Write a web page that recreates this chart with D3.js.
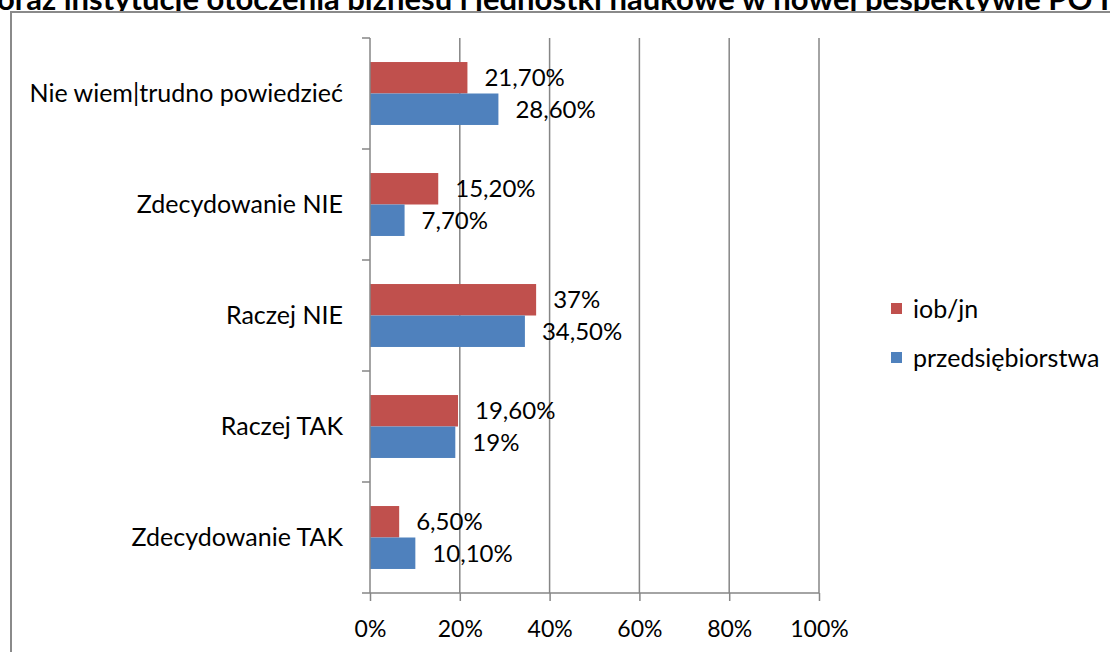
<!DOCTYPE html>
<html>
<head>
<meta charset="utf-8">
<script src="https://cdn.jsdelivr.net/npm/d3@7"></script>
<style>
  html, body { margin: 0; padding: 0; background: #fff; overflow: hidden; }
  svg { display: block; font-family: Lato, "Open Sans", sans-serif; }
</style>
</head>
<body>
<div id="chart"></div>
<script>
var title = "oraz instytucje otoczenia biznesu i jednostki naukowe w nowej pespektywie PO IR";
var categories = ["Nie wiem|trudno powiedzieć", "Zdecydowanie NIE", "Raczej NIE", "Raczej TAK", "Zdecydowanie TAK"];
var series = ["iob/jn", "przedsiębiorstwa"];
var iob_values = [21.7, 15.2, 37, 19.6, 6.5];
var firm_values = [28.6, 7.7, 34.5, 19, 10.1];
var iob_labels = ["21,70%", "15,20%", "37%", "19,60%", "6,50%"];
var firm_labels = ["28,60%", "7,70%", "34,50%", "19%", "10,10%"];
var x_ticks = [0, 20, 40, 60, 80, 100];

var width = 1110, height = 652,
    plot = {left: 370, right: 819, top: 38, bottom: 593},
    colors = {"iob/jn": "#C0504D", "przedsiębiorstwa": "#4F81BD"},
    grid = "#868686";

var rows = [];
categories.forEach(function(c, i) {
    rows.push({cat: c, key: series[0], value: iob_values[i], label: iob_labels[i]});
    rows.push({cat: c, key: series[1], value: firm_values[i], label: firm_labels[i]});
});

var svg = d3.select("#chart").append("svg")
    .attr("width", width)
    .attr("height", height);

// title, cut at the top of the picture
svg.append("text")
    .attr("x", -3)
    .attr("y", 10)
    .attr("font-weight", "bold")
    .attr("font-size", 31)
    .text(title);

// chart frame
svg.append("rect")
    .attr("x", 11)
    .attr("y", 12)
    .attr("width", 1120)
    .attr("height", 700)
    .attr("fill", "#fff")
    .attr("stroke", "#8a8a8a")
    .attr("stroke-width", 2);

var x = d3.scaleLinear()
    .domain([0, 100])
    .range([plot.left, plot.right]);

var y = d3.scaleBand()
    .domain(categories)
    .range([plot.top, plot.bottom])
    .paddingInner(0.433)
    .paddingOuter(0.2165);

var ySub = d3.scaleBand()
    .domain(series)
    .range([0, y.bandwidth()]);

var step = y.step();

// gridlines
svg.append("g").selectAll("line")
    .data(x_ticks.slice(1))
    .enter().append("line")
    .attr("x1", function(d) { return x(d); })
    .attr("x2", function(d) { return x(d); })
    .attr("y1", plot.top)
    .attr("y2", plot.bottom)
    .attr("stroke", grid)
    .attr("stroke-width", 1.5);

// bars
svg.append("g").selectAll("rect")
    .data(rows)
    .enter().append("rect")
    .attr("x", x(0))
    .attr("y", function(d) { return y(d.cat) + ySub(d.key); })
    .attr("width", function(d) { return x(d.value) - x(0); })
    .attr("height", ySub.bandwidth())
    .attr("fill", function(d) { return colors[d.key]; });

// value labels
svg.append("g").selectAll("text")
    .data(rows)
    .enter().append("text")
    .attr("x", function(d) { return x(d.value) + 17; })
    .attr("y", function(d) { return y(d.cat) + ySub(d.key) + ySub.bandwidth() / 2; })
    .attr("dy", "0.35em")
    .attr("font-size", 24)
    .attr("fill", "#000")
    .text(function(d) { return d.label; });

// y axis line with ticks at band boundaries
var yAxis = svg.append("g").attr("stroke", grid).attr("stroke-width", 1.5);
yAxis.append("line")
    .attr("x1", x(0)).attr("x2", x(0))
    .attr("y1", plot.top).attr("y2", plot.bottom);
yAxis.selectAll("line.tick")
    .data(d3.range(categories.length + 1))
    .enter().append("line")
    .attr("class", "tick")
    .attr("x1", x(0) - 8).attr("x2", x(0))
    .attr("y1", function(i) { return plot.top + i * step; })
    .attr("y2", function(i) { return plot.top + i * step; });

// category labels
svg.append("g").selectAll("text")
    .data(categories)
    .enter().append("text")
    .attr("x", 343)
    .attr("y", function(d) { return y(d) + y.bandwidth() / 2; })
    .attr("dy", "0.35em")
    .attr("text-anchor", "end")
    .attr("font-size", 25)
    .text(function(d) { return d; });

// x axis
var xAxis = d3.axisBottom(x)
    .tickValues(x_ticks)
    .tickSize(8)
    .tickPadding(20)
    .tickFormat(function(d) { return d + "%"; });

var gx = svg.append("g")
    .attr("transform", "translate(0," + plot.bottom + ")")
    .call(xAxis);
gx.select(".domain").attr("stroke", grid).attr("stroke-width", 1.5).attr("d", "M" + x(0) + ",0H" + x(100));
gx.selectAll(".tick line").attr("stroke", grid).attr("stroke-width", 1.5);
gx.selectAll(".tick text")
    .attr("font-size", 23)
    .attr("font-family", "Lato, 'Open Sans', sans-serif")
    .attr("fill", "#000");

// legend
var legend = svg.append("g").selectAll("g")
    .data(series)
    .enter().append("g")
    .attr("transform", function(d, i) { return "translate(891," + (303 + i * 49) + ")"; });
legend.append("rect")
    .attr("width", 11)
    .attr("height", 11)
    .attr("fill", function(d) { return colors[d]; });
legend.append("text")
    .attr("x", 22)
    .attr("y", 6)
    .attr("dy", "0.35em")
    .attr("font-size", 25)
    .text(function(d) { return d; });
</script>
</body>
</html>
